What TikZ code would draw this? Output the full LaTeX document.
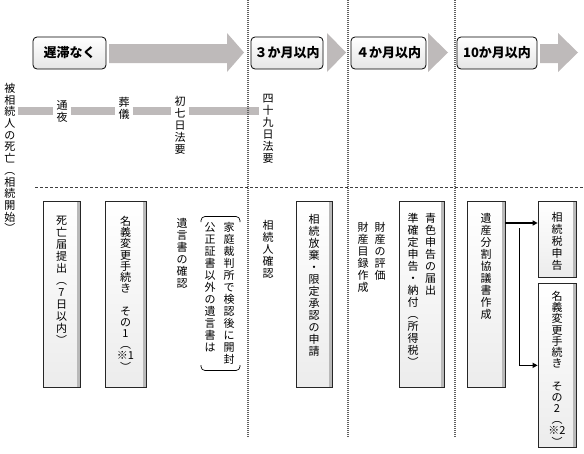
\documentclass[tikz,border=0pt]{standalone}
\usepackage{fontspec}
\setmainfont{Noto Sans CJK JP}
\usetikzlibrary{arrows.meta, positioning}

\definecolor{arrowgray}{RGB}{190,186,186}

% vertical (tate) writing: one character per line
\newcommand\tate[1]{\tatei#1\tateend}
\def\tatei#1{#1\tateii}
\def\tateii#1{\def\tatetmp{#1}\ifx\tatetmp\tatestop\else\\#1\expandafter\tateii\fi}
\def\tatestop{\tateend}

\tikzset{
  period/.style={draw, rounded corners=4pt, line width=0.8pt, top color=white, bottom color=gray!20,
    minimum height=32pt, inner sep=0pt, font=\fontsize{13}{15}\selectfont\bfseries},
  task/.style={draw=black!85, line width=0.7pt, anchor=north, top color=white, bottom color=gray!15,
    path picture={\fill[gray!55] ([xshift=-3pt]path picture bounding box.north east) rectangle (path picture bounding box.south east);}},
  tatetext/.style={align=center, anchor=north, inner sep=0pt, font=\fontsize{11}{12}\selectfont},
  event/.style={tatetext, fill=white, inner sep=3pt},
  timeline/.style={arrowgray, line width=8pt},
  divider/.style={gray!75!black, line width=1.2pt, dash pattern=on 1pt off 1pt},
  flow/.style={line width=1.4pt, -{Triangle[length=5pt,width=5pt]}},
}

\begin{document}
\begin{tikzpicture}[x=1pt, y=-1pt]
\useasboundingbox (0,0) rectangle (584,453);

% periods
\node[period, minimum width=73pt] (chitai) at (69.5,53) {遅滞なく};
\node[period, minimum width=72pt] (sankagetsu) at (287,53) {３か月以内};
\node[period, minimum width=75pt] (yonkagetsu) at (388.5,53) {４か月以内};
\node[period, minimum width=80pt] (jukkagetsu) at (497,53) {10か月以内};
\fill[arrowgray] (109,44) -- (227,44) -- (227,33) -- (244,52.5) -- (227,72) -- (227,63) -- (109,63) -- cycle;
\fill[arrowgray] (327,33) -- (346,52.5) -- (327,72) -- cycle;
\fill[arrowgray] (428,33) -- (448,52.5) -- (428,72) -- cycle;
\fill[arrowgray] (540,44) -- (558,44) -- (558,33) -- (578,52.5) -- (558,72) -- (558,63) -- (540,63) -- cycle;

% timeline
\node[tatetext, font=\fontsize{11}{11.7}\selectfont] (kaishi) at (10,83) {\tate{被相続人の死亡︵相続開始︶}};
\node[event] (tsuya) at (62,97) {\tate{通夜}};
\node[event] (sougi) at (124,94) {\tate{葬儀}};
\node[event] (shonanoka) at (180,93) {\tate{初七日法要}};
\node[event] (shijuku) at (268,91) {\tate{四十九日法要}};
\draw[timeline] ([xshift=2pt]tsuya -| kaishi.east) -- (tsuya.west);
\draw[timeline] (tsuya.east) -- (tsuya.east -| sougi.west);
\draw[timeline] (tsuya.east -| sougi.east) -- (tsuya.east -| shonanoka.west);
\draw[timeline] (tsuya.east -| shonanoka.east) -- (tsuya.east -| shijuku.west);

% separators
\draw[divider] (248,0) -- (248,437);
\draw[divider] (348,0) -- (348,437);
\draw[divider] (455,0) -- (455,437);
\draw[black!75, line width=0.6pt, dash pattern=on 3pt off 2pt] (35,187) -- (584,187);

% procedures
\node[task, minimum width=37pt, minimum height=186pt] (todoke) at (61.5,201) {};
\node[tatetext, below=15pt of todoke.north] (todoke-t) {\tate{死亡届提出︵7日以内︶}};
\node[task, minimum width=41pt, minimum height=186pt] (meigi1) at (125.5,201) {};
\node[tatetext, font=\fontsize{11}{11.2}\selectfont, below=15pt of meigi1.north] (meigi1-t) {\tate{名義変更手続き　その1︵{※1}︶}};
\node[tatetext] (yuigon) at (182,218) {\tate{遺言書の確認}};
\node[tatetext] (kouseisho) at (210,222) {\tate{公正証書以外の遺言書は}};
\node[tatetext] (kennin) at (229,222) {\tate{家庭裁判所で検認後に開封}};
\draw[line width=0.7pt, rounded corners=4pt] (201,222) -- (201,216.5) -- (240,216.5) -- (240,222);
\draw[line width=0.7pt, rounded corners=4pt] (201,365) -- (201,370.5) -- (240,370.5) -- (240,365);
\node[tatetext] (souzokunin) at (268,220) {\tate{相続人確認}};
\node[task, minimum width=36pt, minimum height=186pt] (houki) at (314,201) {};
\node[tatetext, below=13pt of houki.north] (houki-t) {\tate{相続放棄・限定承認の申請}};
\node[tatetext] (hyouka) at (380,222) {\tate{財産の評価}};
\node[tatetext] (mokuroku) at (363,222) {\tate{財産目録作成}};
\node[task, minimum width=45pt, minimum height=186pt] (aoiro) at (421.5,201) {};
\node[tatetext] (aoiro-t) at ([xshift=9pt, yshift=-12pt]aoiro.north) {\tate{青色申告の届出}};
\node[tatetext] (junkakutei-t) at ([xshift=-8.5pt, yshift=-12pt]aoiro.north) {\tate{準確定申告・納付︵所得税︶}};
\node[task, minimum width=38pt, minimum height=186pt] (isan) at (486,201) {};
\node[tatetext, below=12pt of isan.north] (isan-t) {\tate{遺産分割協議書作成}};
\node[task, minimum width=38pt, minimum height=76pt] (zeikin) at (557,201) {};
\node[tatetext, below=11pt of zeikin.north] (zeikin-t) {\tate{相続税申告}};
\node[task, minimum width=38pt, minimum height=164pt] (meigi2) at (557,283) {};
\node[tatetext, font=\fontsize{11}{11.2}\selectfont, below=8pt of meigi2.north] (meigi2-t) {\tate{名義変更手続き　その2︵{※2}︶}};

% flows
\coordinate (fork) at ([yshift=-22pt]isan.north east);
\coordinate (drop) at ([xshift=14pt, yshift=-27pt]isan.north east);
\draw[flow] (fork) -- (fork -| zeikin.west);
\draw[flow] (drop) |- (meigi2.west);
\end{tikzpicture}
\end{document}
